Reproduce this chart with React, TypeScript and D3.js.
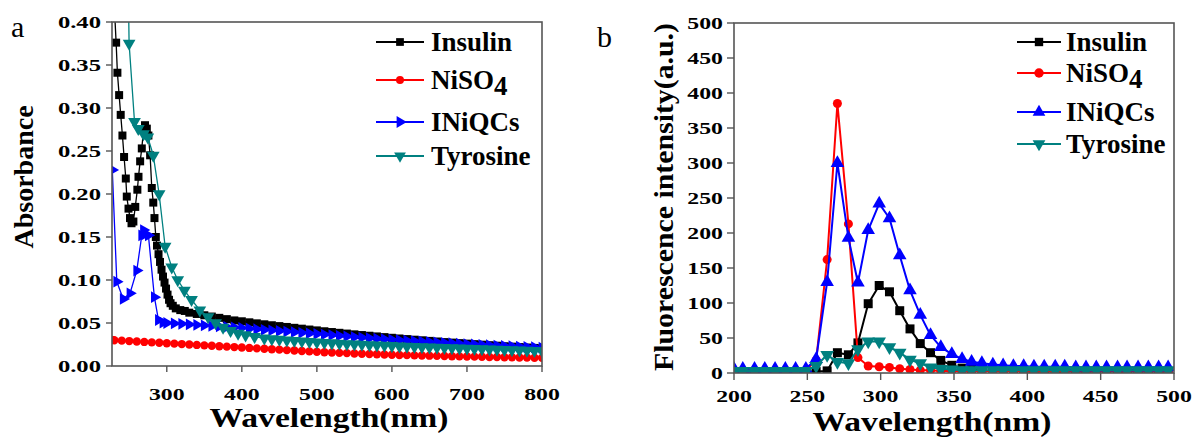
import React from 'react';
import * as d3 from 'd3';

// ---------- Panel a (absorbance) ----------
const A_INSULIN_WL = [230, 232.5, 234.2, 236.5, 238.6, 240.9, 243.1, 245.4, 246.7, 249, 251, 253, 255.5, 258, 260.8, 262.3, 264.5, 266.7, 269, 271, 273.4, 275.5, 277.8, 280, 282, 283.6, 285.4, 287, 289, 291, 293, 295, 297, 299, 301, 303, 305, 308, 312, 318, 324, 330, 340, 350, 360, 370, 380, 390, 400, 410, 420, 430, 440, 450, 460, 470, 480, 490, 500, 510, 520, 530, 540, 550, 560, 570, 580, 590, 600, 610, 620, 630, 640, 650, 660, 670, 680, 690, 700, 710, 720, 730, 740, 750, 760, 770, 780, 790, 800];
const A_INSULIN = [0.42, 0.376, 0.341, 0.315, 0.292, 0.268, 0.243, 0.218, 0.197, 0.183, 0.172, 0.166, 0.168, 0.185, 0.205, 0.22, 0.238, 0.253, 0.274, 0.28, 0.276, 0.268, 0.245, 0.207, 0.19, 0.172, 0.15, 0.14, 0.13, 0.121, 0.112, 0.104, 0.097, 0.09, 0.083, 0.077, 0.073, 0.07, 0.067, 0.065, 0.064, 0.062, 0.0605, 0.059, 0.0575, 0.056, 0.0545, 0.053, 0.052, 0.0508, 0.0496, 0.0485, 0.0474, 0.0464, 0.0454, 0.0444, 0.0434, 0.0424, 0.0414, 0.0404, 0.0395, 0.0386, 0.0377, 0.0368, 0.036, 0.0352, 0.0344, 0.0336, 0.0328, 0.032, 0.0313, 0.0306, 0.0299, 0.0292, 0.0285, 0.0278, 0.0272, 0.0266, 0.026, 0.0254, 0.0248, 0.0242, 0.0236, 0.023, 0.0225, 0.022, 0.0215, 0.021, 0.0205];

const A_NISO4_WL = [227, 230, 240, 250, 260, 270, 280, 290, 300, 310, 320, 330, 340, 350, 360, 370, 380, 390, 400, 410, 420, 430, 440, 450, 460, 470, 480, 490, 500, 510, 520, 530, 540, 550, 560, 570, 580, 590, 600, 610, 620, 630, 640, 650, 660, 670, 680, 690, 700, 710, 720, 730, 740, 750, 760, 770, 780, 790, 800];
const A_NISO4 = [0.0302, 0.030, 0.0295, 0.029, 0.0285, 0.028, 0.0275, 0.027, 0.0265, 0.026, 0.0255, 0.025, 0.0245, 0.024, 0.0235, 0.023, 0.0225, 0.022, 0.0215, 0.021, 0.0205, 0.02, 0.0195, 0.019, 0.0185, 0.018, 0.0175, 0.017, 0.0165, 0.016, 0.0157, 0.0153, 0.015, 0.0146, 0.0143, 0.014, 0.0137, 0.0134, 0.0131, 0.0128, 0.0126, 0.0124, 0.0122, 0.012, 0.0118, 0.0116, 0.0114, 0.0112, 0.011, 0.0109, 0.0107, 0.0105, 0.0104, 0.0102, 0.0101, 0.0099, 0.0098, 0.0096, 0.0095];

const A_INIQCS_WL = [227.4, 233.4, 242, 251, 260, 266.7, 269, 271, 275.5, 283.5, 288.9, 295, 300, 310, 320, 330, 340, 350, 360, 370, 380, 390, 400, 410, 420, 430, 440, 450, 460, 470, 480, 490, 500, 510, 520, 530, 540, 550, 560, 570, 580, 590, 600, 610, 620, 630, 640, 650, 660, 670, 680, 690, 700, 710, 720, 730, 740, 750, 760, 770, 780, 790, 800];
const A_INIQCS = [0.228, 0.098, 0.078, 0.0845, 0.111, 0.152, 0.158, 0.153, 0.152, 0.08, 0.0535, 0.0505, 0.05, 0.0495, 0.049, 0.0484, 0.0478, 0.0472, 0.0466, 0.046, 0.0454, 0.0448, 0.0442, 0.0435, 0.0428, 0.0421, 0.0414, 0.0407, 0.04, 0.0393, 0.0386, 0.0379, 0.0372, 0.0365, 0.0358, 0.0351, 0.0344, 0.0337, 0.033, 0.0324, 0.0318, 0.0312, 0.0306, 0.03, 0.0295, 0.029, 0.0285, 0.028, 0.0275, 0.027, 0.0265, 0.026, 0.0255, 0.025, 0.0246, 0.0242, 0.0238, 0.0234, 0.023, 0.0226, 0.0222, 0.0218, 0.0214];

const A_TYROSINE_WL = [248.5, 249.8, 257, 262, 269, 274.7, 282, 289.8, 297.8, 306.6, 314.6, 323.5, 333, 344, 355, 365, 375, 385, 395, 405, 417, 430, 440, 450, 460, 470, 480, 490, 500, 510, 520, 530, 540, 550, 560, 570, 580, 590, 600, 610, 620, 630, 640, 650, 660, 670, 680, 690, 700, 710, 720, 730, 740, 750, 760, 770, 780, 790, 800];
const A_TYROSINE = [0.45, 0.375, 0.284, 0.276, 0.27, 0.266, 0.245, 0.2, 0.139, 0.115, 0.1, 0.088, 0.077, 0.065, 0.057, 0.05, 0.045, 0.041, 0.038, 0.036, 0.034, 0.0325, 0.0316, 0.0308, 0.03, 0.0294, 0.0288, 0.0282, 0.0277, 0.0272, 0.0267, 0.0262, 0.0258, 0.0254, 0.025, 0.0246, 0.0242, 0.0238, 0.0235, 0.0231, 0.0228, 0.0225, 0.0222, 0.0219, 0.0216, 0.0213, 0.021, 0.0207, 0.0204, 0.0201, 0.0198, 0.0195, 0.0192, 0.0189, 0.0186, 0.0183, 0.018, 0.0178, 0.0175];

const A_X_TICKS = [300, 400, 500, 600, 700, 800];
const A_Y_TICKS = [0, 0.05, 0.1, 0.15, 0.2, 0.25, 0.3, 0.35, 0.4];

// ---------- Panel b (fluorescence) ----------
const B_WL = [200, 206, 214, 221, 228, 235, 242, 249, 256, 263.5, 270.5, 278, 284.5, 291.5, 299, 306, 313, 320, 327, 334, 341, 348.5, 355.5, 362, 369, 376.5, 383.5, 390.5, 397.5, 404.5, 411.5, 419, 425.5, 433, 440, 447, 454, 461.5, 468, 475.5, 482.5, 489.5, 496];
const B_INSULIN = [2, 2, 2, 2, 2, 2, 2, 2, 2, 3, 29, 26, 43, 99, 125, 116, 89, 63, 42, 29, 18, 11, 7, 5, 4, 3, 3, 3, 2, 2, 2, 2, 2, 2, 2, 2, 2, 2, 2, 2, 2, 2, 2];
const B_NISO4 = [4, 4, 4, 4, 4, 4, 4, 4, 18, 162, 385, 213, 22, 10, 9, 8, 6, 5, 4, 4, 3, 3, 3, 3, 3, 3, 3, 3, 3, 3, 3, 3, 3, 3, 3, 3, 3, 3, 3, 3, 3, 3, 3];
const B_INIQCS = [6, 6, 6, 6, 6, 6, 6, 6, 20, 130, 300, 193, 129, 204, 242, 221, 168, 118, 83, 54, 37, 27, 20, 16, 14, 12, 11, 10, 10, 9, 9, 9, 9, 8, 8, 8, 8, 8, 8, 8, 8, 8, 8];
const B_TYROSINE = [3, 3, 3, 3, 3, 3, 3, 3, 10, 26, 16, 14, 34, 45, 45, 37, 29, 19, 14, 8, 6, 5, 4, 4, 4, 4, 4, 4, 4, 4, 4, 4, 4, 4, 4, 4, 4, 4, 4, 4, 4, 4, 4];

const B_X_TICKS = [200, 250, 300, 350, 400, 450, 500];
const B_Y_TICKS = [0, 50, 100, 150, 200, 250, 300, 350, 400, 450, 500];

const SERIES_NAMES = ['Insulin', 'NiSO4', 'INiQCs', 'Tyrosine'];
const COLORS = ['#000000', '#ff0000', '#0000ff', '#008080'];

const FONT = "'Liberation Serif', 'Times New Roman', serif";
const AXIS_COLOR = '#555555';

type MarkerKind = 'square' | 'circle' | 'tri-up' | 'tri-down' | 'tri-right';

function markerPath(kind: MarkerKind, size: number): { d: string; rot: number } {
  if (kind === 'square') return { d: d3.symbol().type(d3.symbolSquare).size(size)() as string, rot: 0 };
  if (kind === 'circle') return { d: d3.symbol().type(d3.symbolCircle).size(size)() as string, rot: 0 };
  const d = d3.symbol().type(d3.symbolTriangle).size(size)() as string;
  return { d, rot: kind === 'tri-down' ? 180 : kind === 'tri-right' ? 90 : 0 };
}

function SText(props: { x: number; y: number; sx?: number; anchor?: string; size: number; weight?: string; rotate?: number; children: any; textLength?: number }) {
  const { x, y, sx = 1, anchor = 'middle', size, weight = 'bold', rotate, children, textLength } = props;
  const tr = `translate(${x},${y})${rotate ? ` rotate(${rotate})` : ''} scale(${sx},1)`;
  return (
    <g transform={tr}>
      <text textAnchor={anchor as any} fontSize={size} fontWeight={weight} fontFamily={FONT} fill="#000"
        {...(textLength ? { textLength, lengthAdjust: 'spacingAndGlyphs' } : {})}>
        {children}
      </text>
    </g>
  );
}

function Series(props: { xs: number[]; ys: number[]; x: any; y: any; color: string; kind: MarkerKind; msize: number; lw: number }) {
  const { xs, ys, x, y, color, kind, msize, lw } = props;
  const pts = xs.map((w, i) => [x(w), y(ys[i])] as [number, number]);
  const line = d3.line()(pts) as string;
  const m = markerPath(kind, msize);
  return (
    <g>
      <path d={line} fill="none" stroke={color} strokeWidth={lw} strokeLinejoin="round" />
      {pts.map((p, i) => (
        <path key={i} d={m.d} transform={`translate(${p[0]},${p[1]}) rotate(${m.rot})`} fill={color} />
      ))}
    </g>
  );
}

function LegendName(props: { name: string; x: number; y: number }) {
  const { name, x, y } = props;
  if (name === 'NiSO4') {
    return (
      <text x={x} y={y} fontSize={27} fontWeight="bold" fontFamily={FONT} fill="#000">
        NiSO<tspan dy={6}>4</tspan>
      </text>
    );
  }
  return (
    <text x={x} y={y} fontSize={27} fontWeight="bold" fontFamily={FONT} fill="#000">{name}</text>
  );
}

export default function App() {
  // Panel a
  const aL = 112, aR = 542, aT = 22, aB = 366;
  const ax = d3.scaleLinear().domain([227, 800]).range([aL, aR]);
  const ay = d3.scaleLinear().domain([0, 0.4]).range([aB, aT]);
  // Panel b
  const bL = 734, bR = 1174, bT = 23, bB = 373;
  const bx = d3.scaleLinear().domain([200, 500]).range([bL, bR]);
  const by = d3.scaleLinear().domain([0, 500]).range([bB, bT]);

  const aSeries = [
    { xs: A_INSULIN_WL, ys: A_INSULIN, kind: 'square' as MarkerKind, ms: 64 },
    { xs: A_NISO4_WL, ys: A_NISO4, kind: 'circle' as MarkerKind, ms: 55 },
    { xs: A_INIQCS_WL, ys: A_INIQCS, kind: 'tri-right' as MarkerKind, ms: 60 },
    { xs: A_TYROSINE_WL, ys: A_TYROSINE, kind: 'tri-down' as MarkerKind, ms: 70 },
  ];
  const bSeries = [
    { ys: B_INSULIN, kind: 'square' as MarkerKind, ms: 81 },
    { ys: B_NISO4, kind: 'circle' as MarkerKind, ms: 64 },
    { ys: B_INIQCS, kind: 'tri-up' as MarkerKind, ms: 80 },
    { ys: B_TYROSINE, kind: 'tri-down' as MarkerKind, ms: 80 },
  ];

  const aLegendRows = [42, 80, 122, 156];
  const bLegendRows = [42, 73, 112, 144];
  const aLegendKinds: MarkerKind[] = ['square', 'circle', 'tri-right', 'tri-down'];
  const bLegendKinds: MarkerKind[] = ['square', 'circle', 'tri-up', 'tri-down'];

  const fmtA = d3.format('.2f');

  return (
    <svg width={1194} height={437} style={{ position: 'absolute', left: 0, top: 0, background: '#fff' }}>
      <defs>
        <clipPath id="clipA"><rect x={aL} y={aT} width={aR - aL} height={aB - aT} /></clipPath>
        <clipPath id="clipB"><rect x={bL} y={bT} width={bR - bL} height={bB - bT} /></clipPath>
      </defs>
      <rect x={0} y={0} width={1194} height={437} fill="#fff" />

      {/* ===== Panel a ===== */}
      <text x={11} y={37} fontSize={30} fontFamily={FONT} fill="#000">a</text>
      <g clipPath="url(#clipA)">
        {aSeries.map((s, i) => (
          <Series key={i} xs={s.xs} ys={s.ys} x={ax} y={ay} color={COLORS[i]} kind={s.kind} msize={s.ms} lw={1.3} />
        ))}
      </g>
      <rect x={aL} y={aT} width={aR - aL} height={aB - aT} fill="none" stroke={AXIS_COLOR} strokeWidth={1.6} />
      {A_Y_TICKS.map((t) => (
        <g key={'ay' + t}>
          <line x1={aL - 6} x2={aL} y1={ay(t)} y2={ay(t)} stroke={AXIS_COLOR} strokeWidth={1.4} />
          <SText x={aL - 11} y={ay(t) + 6} sx={1.45} anchor="end" size={17}>{fmtA(t)}</SText>
        </g>
      ))}
      {A_X_TICKS.map((t) => (
        <g key={'ax' + t}>
          <line x1={ax(t)} x2={ax(t)} y1={aB} y2={aB + 6} stroke={AXIS_COLOR} strokeWidth={1.4} />
          <SText x={ax(t)} y={aB + 34} sx={1.4} size={17}>{String(t)}</SText>
        </g>
      ))}
      <SText x={329} y={427} sx={1.2} size={28}>Wavelength(nm)</SText>
      <SText x={33} y={177} rotate={-90} size={28}>Absorbance</SText>
      {SERIES_NAMES.map((n, i) => {
        const m = markerPath(aLegendKinds[i], i === 1 ? 50 : 60);
        const yy = aLegendRows[i];
        return (
          <g key={'la' + n}>
            <line x1={376} x2={424} y1={yy} y2={yy} stroke={COLORS[i]} strokeWidth={2} />
            <path d={m.d} transform={`translate(400,${yy}) rotate(${m.rot})`} fill={COLORS[i]} />
            <LegendName name={n} x={431} y={yy + 9} />
          </g>
        );
      })}

      {/* ===== Panel b ===== */}
      <text x={597} y={47} fontSize={30} fontFamily={FONT} fill="#000">b</text>
      <g clipPath="url(#clipB)">
        {bSeries.map((s, i) => (
          <Series key={i} xs={B_WL} ys={s.ys} x={bx} y={by} color={COLORS[i]} kind={s.kind} msize={s.ms} lw={2} />
        ))}
      </g>
      <rect x={bL} y={bT} width={bR - bL} height={bB - bT} fill="none" stroke={AXIS_COLOR} strokeWidth={1.6} />
      {B_Y_TICKS.map((t) => (
        <g key={'by' + t}>
          <line x1={bL - 7} x2={bL} y1={by(t)} y2={by(t)} stroke={AXIS_COLOR} strokeWidth={1.4} />
          <SText x={bL - 11} y={by(t) + 6} sx={1.4} anchor="end" size={17}>{String(t)}</SText>
        </g>
      ))}
      {B_X_TICKS.map((t) => (
        <g key={'bx' + t}>
          <line x1={bx(t)} x2={bx(t)} y1={bB} y2={bB + 7} stroke={AXIS_COLOR} strokeWidth={1.4} />
          <SText x={bx(t)} y={bB + 29} sx={1.4} size={17}>{String(t)}</SText>
        </g>
      ))}
      <SText x={932} y={431} sx={1.2} size={28}>Wavelength(nm)</SText>
      <SText x={673} y={197} rotate={-90} size={28} textLength={348}>Fluorescence intensity(a.u.)</SText>
      {SERIES_NAMES.map((n, i) => {
        const m = markerPath(bLegendKinds[i], 70);
        const yy = bLegendRows[i];
        return (
          <g key={'lb' + n}>
            <line x1={1017} x2={1061} y1={yy} y2={yy} stroke={COLORS[i]} strokeWidth={2} />
            <path d={m.d} transform={`translate(1039,${yy}) rotate(${m.rot})`} fill={COLORS[i]} />
            <LegendName name={n} x={1066} y={yy + 9} />
          </g>
        );
      })}
    </svg>
  );
}
